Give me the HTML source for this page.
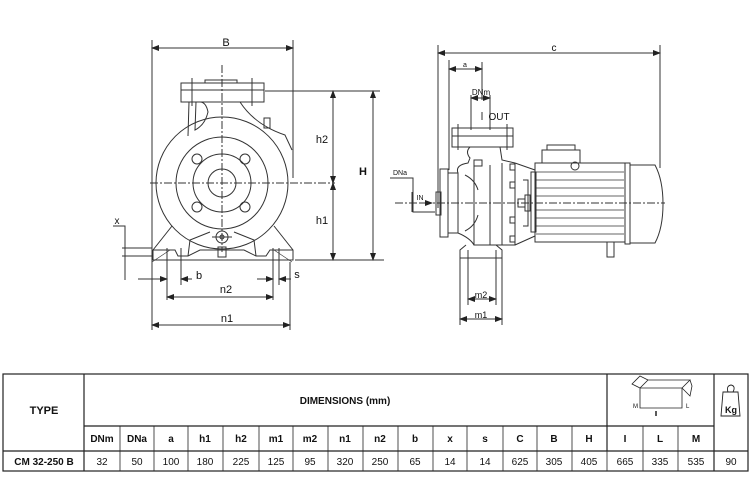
<!DOCTYPE html>
<html><head><meta charset="utf-8"><style>
html,body{margin:0;padding:0;background:#fff;width:750px;height:500px;overflow:hidden}
svg{display:block}
text{font-family:"Liberation Sans",Arial,sans-serif;fill:#111}
.t{font-size:10px;font-weight:bold;text-anchor:middle}
.d{font-size:11px;text-anchor:middle}
</style></head><body>
<svg width="750" height="500" viewBox="0 0 750 500" xmlns="http://www.w3.org/2000/svg">
<defs>
<marker id="a" markerWidth="8" markerHeight="6" refX="7" refY="3" orient="auto-start-reverse" markerUnits="userSpaceOnUse"><path d="M0,0 L8,3 L0,6 z" fill="#222"/></marker>
</defs>
<g stroke="#333" stroke-width="1" fill="none">
<!-- LEFT VIEW -->
<line x1="152" y1="40" x2="152" y2="330"/>
<line x1="293" y1="40" x2="293" y2="178"/>
<line x1="152" y1="48" x2="293" y2="48" marker-start="url(#a)" marker-end="url(#a)"/>
<rect x="181" y="90" width="83" height="12"/>
<rect x="181" y="83" width="83" height="7"/>
<rect x="205" y="80" width="32" height="3"/>
<line x1="192" y1="78" x2="192" y2="106"/><line x1="252" y1="78" x2="252" y2="106"/>
<line x1="222" y1="65" x2="222" y2="252" stroke-dasharray="8,2,2,2"/>
<line x1="150" y1="183" x2="335" y2="183" stroke-dasharray="8,2,2,2"/>
<path d="M189,102 L188,136"/>
<path d="M196,102 L195,130 Q205,125 208,112 Q206,102 200,102"/>
<path d="M240,102 Q255,125 285,135 L292,150"/>
<rect x="264" y="118" width="6" height="10"/>
<circle cx="222" cy="183" r="66"/>
<circle cx="222" cy="183" r="46"/>
<circle cx="222" cy="183" r="29"/>
<circle cx="222" cy="183" r="14"/>
<circle cx="197" cy="159" r="5"/><circle cx="245" cy="159" r="5"/>
<circle cx="197" cy="207" r="5"/><circle cx="245" cy="207" r="5"/>
<circle cx="222" cy="237" r="6"/><circle cx="222" cy="237" r="2"/>
<line x1="212" y1="237" x2="232" y2="237"/>
<rect x="218" y="247" width="8" height="10"/>
<path d="M172,226 L153,250 L153,260 L293,260 L293,250 L274,226"/>
<path d="M153,250 L175,250 L178,256 L188,256 L200,250 L244,250 L256,256 L266,256 L270,250 L293,250"/>
<path d="M188,256 L190,240 L210,232 M256,256 L254,240 L234,232"/>
<path d="M170,250 L152,262 M274,250 L292,262" stroke-width="0.6"/>
<line x1="167" y1="248" x2="167" y2="300"/><line x1="181" y1="248" x2="181" y2="285"/>
<line x1="273" y1="248" x2="273" y2="300"/><line x1="279" y1="248" x2="279" y2="285"/>
<line x1="290" y1="262" x2="290" y2="330"/>
<!-- h dims -->
<line x1="265" y1="91" x2="380" y2="91"/>
<line x1="295" y1="260" x2="384" y2="260"/>
<line x1="333" y1="91" x2="333" y2="183" marker-start="url(#a)" marker-end="url(#a)"/>
<line x1="333" y1="183" x2="333" y2="260" marker-start="url(#a)" marker-end="url(#a)"/>
<line x1="373" y1="91" x2="373" y2="260" marker-start="url(#a)" marker-end="url(#a)"/>
<!-- x -->
<path d="M113,226 L125,226 L125,280"/>
<line x1="122" y1="248" x2="152" y2="248"/><line x1="122" y1="256" x2="152" y2="256"/>
<!-- b, s -->
<line x1="138" y1="279" x2="167" y2="279" marker-end="url(#a)"/>
<line x1="181" y1="279" x2="192" y2="279" marker-start="url(#a)"/>
<line x1="257" y1="279" x2="273" y2="279" marker-end="url(#a)"/>
<line x1="279" y1="279" x2="291" y2="279" marker-start="url(#a)"/>
<line x1="167" y1="297" x2="273" y2="297" marker-start="url(#a)" marker-end="url(#a)"/>
<line x1="152" y1="325" x2="290" y2="325" marker-start="url(#a)" marker-end="url(#a)"/>

<!-- RIGHT VIEW -->
<line x1="438" y1="45" x2="438" y2="208"/>
<line x1="660" y1="45" x2="660" y2="168"/>
<line x1="438" y1="53" x2="660" y2="53" marker-start="url(#a)" marker-end="url(#a)"/>
<line x1="449" y1="60" x2="449" y2="170"/>
<line x1="482" y1="62" x2="482" y2="100"/>
<line x1="449" y1="69" x2="482" y2="69" marker-start="url(#a)" marker-end="url(#a)"/>
<line x1="471" y1="95" x2="471" y2="130"/><line x1="490" y1="95" x2="490" y2="130"/>
<line x1="471" y1="98" x2="490" y2="98" marker-start="url(#a)" marker-end="url(#a)"/>
<line x1="482" y1="112" x2="482" y2="120"/>
<rect x="452" y="128" width="61" height="8"/><rect x="452" y="136" width="61" height="11"/>
<line x1="458" y1="124" x2="458" y2="150"/><line x1="507" y1="124" x2="507" y2="150"/>
<path d="M470,147 Q465,152 470,158 L468,163 Q455,165 458,173 M500,147 L502,160 L515,163"/>
<path d="M458,173 L458,233 M458,233 Q470,238 474,245"/>
<path d="M465,175 Q475,180 478,190 M465,231 Q475,226 478,215"/>
<rect x="474" y="160" width="8" height="6"/>
<path d="M474,165 L474,245 L515,245 L515,163 M490,165 L490,245 M502,163 L502,245"/>
<rect x="440" y="169" width="8" height="68"/>
<rect x="448" y="173" width="10" height="60"/>
<rect x="436" y="192" width="5" height="23"/>
<line x1="395" y1="203" x2="665" y2="203" stroke-dasharray="8,2,2,2"/>
<path d="M390,178 L413,178 L413,212 L435,212"/>
<line x1="412" y1="192" x2="412" y2="212"/>
<line x1="420" y1="203" x2="432" y2="203" marker-end="url(#a)"/>
<!-- adapter -->
<path d="M515,163 L535,170 L535,236 L515,245"/>
<rect x="510" y="164" width="5" height="6"/><rect x="510" y="182" width="5" height="6"/><rect x="510" y="217" width="5" height="6"/><rect x="510" y="236" width="5" height="6"/>
<path d="M525,195 L530,195 L530,211 L525,211 z M518,199 L525,199 L525,207 L518,207 z"/>
<path d="M523,180 L528,180 L528,226 L523,226"/>
<rect x="531" y="172" width="5" height="60"/>
<!-- motor -->
<rect x="535" y="163" width="90" height="79"/>
<rect x="542" y="150" width="38" height="13"/>
<rect x="547" y="145" width="28" height="5"/>
<circle cx="575" cy="166" r="4"/>
<g stroke-width="0.8">
<line x1="536" y1="172" x2="624" y2="172"/><line x1="536" y1="180" x2="624" y2="180"/>
<line x1="536" y1="188" x2="624" y2="188"/><line x1="536" y1="196" x2="624" y2="196"/>
<line x1="536" y1="210" x2="624" y2="210"/><line x1="536" y1="218" x2="624" y2="218"/>
<line x1="536" y1="226" x2="624" y2="226"/><line x1="536" y1="234" x2="624" y2="234"/>
</g>
<rect x="625" y="163" width="5" height="81"/>
<path d="M630,165 L655,165 Q663,180 663,204 Q663,228 655,243 L630,243"/>
<rect x="607" y="242" width="7" height="15"/>
<!-- foot -->
<path d="M466,245 L460,250 L460,258 L502,258 L502,250 L496,245"/>
<line x1="460" y1="258" x2="460" y2="325"/><line x1="502" y1="258" x2="502" y2="325"/>
<line x1="468" y1="250" x2="468" y2="305"/><line x1="496" y1="250" x2="496" y2="305"/>
<line x1="468" y1="299" x2="496" y2="299" marker-start="url(#a)" marker-end="url(#a)"/>
<line x1="460" y1="319" x2="502" y2="319" marker-start="url(#a)" marker-end="url(#a)"/>
</g>
<g class="lbl">
<text x="226" y="46" class="d">B</text>
<text x="322" y="143" class="d">h2</text>
<text x="322" y="224" class="d">h1</text>
<text x="363" y="175" class="d" style="font-weight:bold">H</text>
<text x="117" y="224" class="d" style="font-size:10px">x</text>
<text x="199" y="279" class="d">b</text>
<text x="297" y="278" class="d">s</text>
<text x="226" y="293" class="d">n2</text>
<text x="227" y="322" class="d">n1</text>
<text x="554" y="51" class="d" style="font-size:10px">c</text>
<text x="465" y="67" class="d" style="font-size:7px">a</text>
<text x="481" y="95" class="d" style="font-size:8px">DNm</text>
<text x="499" y="120" class="d" style="font-size:10px">OUT</text>
<text x="400" y="175" class="d" style="font-size:7px">DNa</text>
<text x="420" y="200" class="d" style="font-size:7px">IN</text>
<text x="481" y="298" class="d" style="font-size:9px">m2</text>
<text x="481" y="318" class="d" style="font-size:9px">m1</text>
</g>
<!-- TABLE -->
<g stroke="#222" stroke-width="1.2" fill="none">
<rect x="3" y="374" width="745" height="97"/>
<line x1="84" y1="374" x2="84" y2="471"/>
<line x1="607" y1="374" x2="607" y2="451"/>
<line x1="714" y1="374" x2="714" y2="471"/>
<line x1="84" y1="426" x2="714" y2="426"/>
<line x1="3" y1="451" x2="748" y2="451"/>
<g stroke-width="0.8">
<line x1="120" y1="426" x2="120" y2="471"/><line x1="154" y1="426" x2="154" y2="471"/>
<line x1="188" y1="426" x2="188" y2="471"/><line x1="223" y1="426" x2="223" y2="471"/>
<line x1="259" y1="426" x2="259" y2="471"/><line x1="293" y1="426" x2="293" y2="471"/>
<line x1="328" y1="426" x2="328" y2="471"/><line x1="363" y1="426" x2="363" y2="471"/>
<line x1="398" y1="426" x2="398" y2="471"/><line x1="433" y1="426" x2="433" y2="471"/>
<line x1="467" y1="426" x2="467" y2="471"/><line x1="503" y1="426" x2="503" y2="471"/>
<line x1="537" y1="426" x2="537" y2="471"/><line x1="572" y1="426" x2="572" y2="471"/>
<line x1="607" y1="451" x2="607" y2="471"/>
<line x1="643" y1="426" x2="643" y2="471"/><line x1="678" y1="426" x2="678" y2="471"/>
</g>
<!-- box icon -->
<g stroke-width="0.8">
<path d="M640,388 L682,388 L682,408 L640,408 z"/>
<path d="M640,388 L648,380 L690,380 L682,388"/>
<path d="M640,388 L632,384 L640,376 L648,380 M682,388 L690,396 L692,386 L690,380"/>
<line x1="656" y1="411" x2="656" y2="416" stroke-width="1.5"/>
</g>
<path d="M723,392 L738,392 L740,416 L721,416 z M728,392 Q726,386 731,385 Q736,386 733,392" stroke-width="0.9"/>
</g>
<text x="44" y="414" class="t" style="font-size:11px">TYPE</text>
<text x="345" y="404" class="t">DIMENSIONS (mm)</text>
<text x="633" y="408" style="font-size:6px">M</text>
<text x="686" y="408" style="font-size:6px">L</text>
<text x="731" y="413" class="t" style="font-size:9px">Kg</text>
<g class="t">
<text x="102" y="442" class="t">DNm</text><text x="137" y="442" class="t">DNa</text>
<text x="171" y="442" class="t">a</text><text x="205" y="442" class="t">h1</text>
<text x="241" y="442" class="t">h2</text><text x="276" y="442" class="t">m1</text>
<text x="310" y="442" class="t">m2</text><text x="345" y="442" class="t">n1</text>
<text x="380" y="442" class="t">n2</text><text x="415" y="442" class="t">b</text>
<text x="450" y="442" class="t">x</text><text x="485" y="442" class="t">s</text>
<text x="520" y="442" class="t">C</text><text x="554" y="442" class="t">B</text>
<text x="589" y="442" class="t">H</text><text x="625" y="442" class="t">I</text>
<text x="660" y="442" class="t">L</text><text x="696" y="442" class="t">M</text>
</g>
<g>
<text x="44" y="465" class="t">CM 32-250 B</text>
<text x="102" y="465" class="d" style="font-size:10px">32</text><text x="137" y="465" class="d" style="font-size:10px">50</text>
<text x="171" y="465" class="d" style="font-size:10px">100</text><text x="205" y="465" class="d" style="font-size:10px">180</text>
<text x="241" y="465" class="d" style="font-size:10px">225</text><text x="276" y="465" class="d" style="font-size:10px">125</text>
<text x="310" y="465" class="d" style="font-size:10px">95</text><text x="345" y="465" class="d" style="font-size:10px">320</text>
<text x="380" y="465" class="d" style="font-size:10px">250</text><text x="415" y="465" class="d" style="font-size:10px">65</text>
<text x="450" y="465" class="d" style="font-size:10px">14</text><text x="485" y="465" class="d" style="font-size:10px">14</text>
<text x="520" y="465" class="d" style="font-size:10px">625</text><text x="554" y="465" class="d" style="font-size:10px">305</text>
<text x="589" y="465" class="d" style="font-size:10px">405</text><text x="625" y="465" class="d" style="font-size:10px">665</text>
<text x="660" y="465" class="d" style="font-size:10px">335</text><text x="696" y="465" class="d" style="font-size:10px">535</text>
<text x="731" y="465" class="d" style="font-size:10px">90</text>
</g>
</svg>
</body></html>
